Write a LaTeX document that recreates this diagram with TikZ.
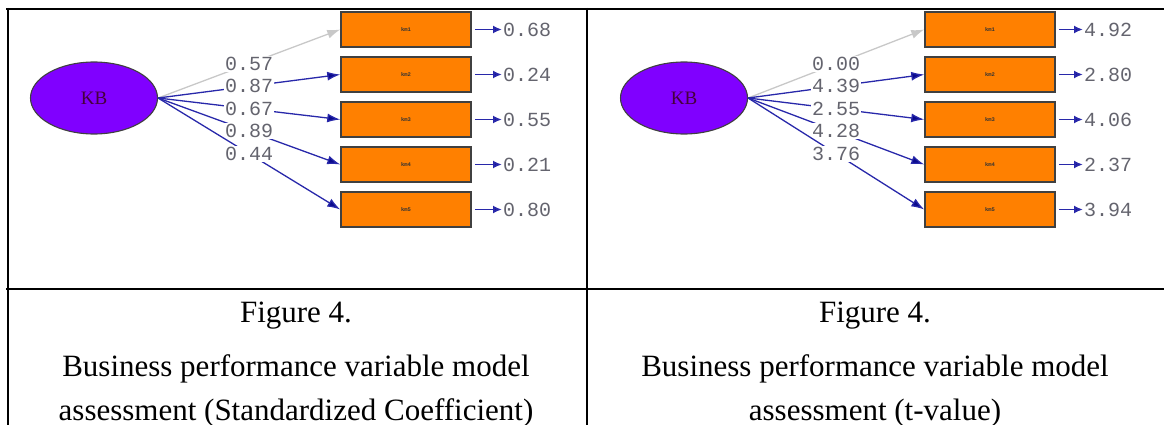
\documentclass[tikz,border=0pt]{standalone}
\usepackage{fontspec}
\setmainfont{Liberation Serif}
\newfontfamily\monofont{Liberation Mono}
\usetikzlibrary{arrows.meta,shapes.geometric}

\definecolor{latentfill}{RGB}{128,0,255}
\definecolor{obsfill}{RGB}{255,128,0}
\definecolor{pathblue}{RGB}{40,40,170}
\definecolor{headblue}{RGB}{10,10,140}
\definecolor{fixedgray}{RGB}{200,200,200}
\definecolor{numgray}{RGB}{100,100,110}
\definecolor{kbtext}{RGB}{70,0,60}

\tikzset{
  latent/.style={ellipse, draw=black!75, line width=1.1pt, fill=latentfill,
    minimum width=127pt, minimum height=72pt, inner sep=0pt,
    font=\fontsize{19}{19}\selectfont, text=kbtext},
  obs/.style={rectangle, draw=black!75, line width=1.5pt, fill=obsfill,
    minimum width=130pt, minimum height=35pt, inner sep=0pt,
    font=\monofont\bfseries\fontsize{5.5}{5.5}\selectfont, text=black!80},
  coef/.style={fill=white, inner sep=1pt, text=numgray,
    font=\monofont\fontsize{20}{20}\selectfont},
  errval/.style={anchor=west, inner sep=1pt, text=numgray,
    font=\monofont\fontsize{20}{20}\selectfont},
  loadpath/.style={draw=pathblue, line width=1.3pt,
    -{Latex[length=13pt,width=9pt,fill=headblue]}},
  fixedpath/.style={draw=fixedgray, line width=1.3pt,
    -{Latex[length=13pt,width=9pt,fill=fixedgray]}},
  errpath/.style={draw=pathblue, line width=1.8pt,
    -{Latex[length=9pt,width=8pt,fill=headblue]}},
  rule/.style={line width=2pt, black},
  caption/.style={font=\fontsize{31}{44}\selectfont, align=center}
}

\begin{document}
\begin{tikzpicture}[x=1pt,y=-1pt]
  \useasboundingbox (0,0) rectangle (1164,425);

  % table rules
  \draw[rule] (6,9) -- (1164,9);
  \draw[rule] (6,289) -- (1164,289);
  \draw[rule] (7.5,8) -- (7.5,425);
  \draw[rule] (586.5,8) -- (586.5,425);

  % ---- left panel: standardized coefficients ----
  \begin{scope}
    \node[latent] (kbA) at (94,98) {KB};
    \foreach \i/\y in {1/29.5,2/74.5,3/119.5,4/164.5,5/209.5}
      \node[obs] (mA\i) at (406,\y) {km\i};
    \draw[fixedpath] (kbA.east) -- node[coef, pos=0.5] (cA1) {0.57} (mA1.west);
    \foreach \i/\v in {2/0.87,3/0.67,4/0.89,5/0.44}
      \draw[loadpath] (kbA.east) -- node[coef, pos=0.5] (cA\i) {\v} (mA\i.west);
    \foreach \i/\v in {1/0.68,2/0.24,3/0.55,4/0.21,5/0.80}{
      \node[errval] (eA\i) at (502,{29.5+45*(\i-1)}) {\v};
      \draw[errpath] ([xshift=3pt]mA\i.east) -- (eA\i.west);
    }
  \end{scope}

  % ---- right panel: t-values ----
  \begin{scope}
    \node[latent] (kbB) at (684,98) {KB};
    \foreach \i/\y in {1/29.5,2/74.5,3/119.5,4/164.5,5/209.5}
      \node[obs] (mB\i) at (990,\y) {km\i};
    \draw[fixedpath] (kbB.east) -- node[coef, pos=0.5] (cB1) {0.00} (mB1.west);
    \foreach \i/\v in {2/4.39,3/2.55,4/4.28,5/3.76}
      \draw[loadpath] (kbB.east) -- node[coef, pos=0.5] (cB\i) {\v} (mB\i.west);
    \foreach \i/\v in {1/4.92,2/2.80,3/4.06,4/2.37,5/3.94}{
      \node[errval] (eB\i) at (1083,{29.5+45*(\i-1)}) {\v};
      \draw[errpath] ([xshift=3pt]mB\i.east) -- (eB\i.west);
    }
  \end{scope}

  % captions
  \node[caption] (figA) at (296,316) {Figure 4.};
  \node[caption] (figB) at (875,316) {Figure 4.};
  \node[caption] (capA) at (296,391)
    {Business performance variable model\\assessment (Standardized Coefficient)};
  \node[caption] (capB) at (875,391)
    {Business performance variable model\\assessment (t-value)};
\end{tikzpicture}
\end{document}
